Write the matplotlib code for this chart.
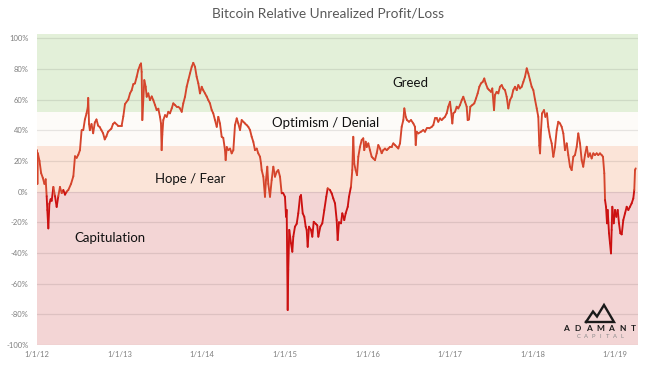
import numpy as np
import matplotlib
matplotlib.use("Agg")
import matplotlib.pyplot as plt
from matplotlib.collections import LineCollection
from matplotlib.lines import Line2D

plt.rcParams['font.family'] = ['Lato', 'DejaVu Sans']

# Relative unrealized profit/loss (%); x in decimal years
years = [
    2012.000, 2012.005, 2012.010, 2012.030, 2012.050, 2012.070, 2012.090, 2012.105, 2012.117, 2012.125,
    2012.137, 2012.150, 2012.165, 2012.178, 2012.198, 2012.218, 2012.238, 2012.258, 2012.278, 2012.299,
    2012.319, 2012.339, 2012.360, 2012.379, 2012.412, 2012.440, 2012.460, 2012.480, 2012.500, 2012.520,
    2012.540, 2012.560, 2012.580, 2012.600, 2012.615, 2012.620, 2012.630, 2012.640, 2012.660, 2012.680,
    2012.700, 2012.720, 2012.740, 2012.760, 2012.780, 2012.800, 2012.820, 2012.840, 2012.860, 2012.900,
    2012.920, 2012.940, 2012.980, 2013.025, 2013.045, 2013.065, 2013.105, 2013.126, 2013.146, 2013.166,
    2013.186, 2013.207, 2013.226, 2013.247, 2013.259, 2013.267, 2013.275, 2013.299, 2013.316, 2013.328,
    2013.347, 2013.368, 2013.389, 2013.408, 2013.429, 2013.449, 2013.469, 2013.489, 2013.501, 2013.509,
    2013.517, 2013.529, 2013.550, 2013.570, 2013.590, 2013.610, 2013.631, 2013.650, 2013.671, 2013.691,
    2013.711, 2013.731, 2013.752, 2013.771, 2013.792, 2013.812, 2013.832, 2013.852, 2013.873, 2013.892,
    2013.913, 2013.933, 2013.953, 2013.973, 2013.994, 2014.013, 2014.034, 2014.054, 2014.074, 2014.094,
    2014.115, 2014.134, 2014.155, 2014.176, 2014.195, 2014.215, 2014.236, 2014.255, 2014.276, 2014.284,
    2014.297, 2014.316, 2014.337, 2014.357, 2014.377, 2014.397, 2014.418, 2014.437, 2014.458, 2014.478,
    2014.498, 2014.518, 2014.539, 2014.558, 2014.579, 2014.599, 2014.619, 2014.639, 2014.660, 2014.679,
    2014.700, 2014.712, 2014.720, 2014.740, 2014.760, 2014.772, 2014.788, 2014.800, 2014.821, 2014.841,
    2014.861, 2014.881, 2014.902, 2014.921, 2014.942, 2014.962, 2014.982, 2015.002, 2015.015, 2015.023,
    2015.035, 2015.042, 2015.054, 2015.075, 2015.091, 2015.103, 2015.123, 2015.144, 2015.163, 2015.184,
    2015.196, 2015.217, 2015.236, 2015.253, 2015.265, 2015.277, 2015.293, 2015.317, 2015.333, 2015.350,
    2015.374, 2015.393, 2015.406, 2015.430, 2015.454, 2015.478, 2015.502, 2015.519, 2015.547, 2015.568,
    2015.587, 2015.608, 2015.628, 2015.640, 2015.656, 2015.680, 2015.696, 2015.720, 2015.737, 2015.762,
    2015.777, 2015.801, 2015.817, 2015.829, 2015.841, 2015.858, 2015.874, 2015.890, 2015.910, 2015.931,
    2015.950, 2015.962, 2015.979, 2015.991, 2016.011, 2016.031, 2016.052, 2016.071, 2016.092, 2016.113,
    2016.132, 2016.153, 2016.173, 2016.192, 2016.213, 2016.234, 2016.253, 2016.274, 2016.294, 2016.314,
    2016.334, 2016.355, 2016.374, 2016.395, 2016.415, 2016.435, 2016.447, 2016.464, 2016.479, 2016.504,
    2016.528, 2016.556, 2016.576, 2016.585, 2016.597, 2016.616, 2016.649, 2016.677, 2016.697, 2016.718,
    2016.750, 2016.779, 2016.798, 2016.818, 2016.839, 2016.858, 2016.879, 2016.899, 2016.919, 2016.939,
    2016.960, 2016.979, 2017.000, 2017.012, 2017.028, 2017.040, 2017.061, 2017.081, 2017.100, 2017.121,
    2017.142, 2017.161, 2017.182, 2017.202, 2017.214, 2017.230, 2017.246, 2017.270, 2017.294, 2017.315,
    2017.335, 2017.355, 2017.375, 2017.396, 2017.415, 2017.432, 2017.456, 2017.476, 2017.496, 2017.512,
    2017.533, 2017.545, 2017.565, 2017.585, 2017.605, 2017.626, 2017.645, 2017.666, 2017.686, 2017.706,
    2017.726, 2017.747, 2017.766, 2017.787, 2017.808, 2017.827, 2017.847, 2017.868, 2017.888, 2017.908,
    2017.929, 2017.948, 2017.969, 2017.989, 2018.009, 2018.029, 2018.050, 2018.069, 2018.081, 2018.090,
    2018.102, 2018.114, 2018.138, 2018.155, 2018.174, 2018.190, 2018.211, 2018.231, 2018.251, 2018.271,
    2018.292, 2018.311, 2018.332, 2018.352, 2018.372, 2018.392, 2018.413, 2018.432, 2018.453, 2018.473,
    2018.493, 2018.513, 2018.534, 2018.553, 2018.574, 2018.594, 2018.613, 2018.634, 2018.655, 2018.675,
    2018.695, 2018.715, 2018.735, 2018.755, 2018.776, 2018.795, 2018.816, 2018.836, 2018.852, 2018.868,
    2018.877, 2018.889, 2018.901, 2018.909, 2018.925, 2018.937, 2018.949, 2018.957, 2018.965, 2018.982,
    2018.998, 2019.014, 2019.030, 2019.046, 2019.062, 2019.079, 2019.098, 2019.119, 2019.139, 2019.159,
    2019.179, 2019.199, 2019.219, 2019.231, 2019.240, 2019.248,
]
rup = [
    27, 5, 25, 20, 12, 9, 5, 8, -3, -12,
    -24, -8, -5, -6, 3, -3, -10, -3, 3, -1,
    1, -2, 0, 1, 5, 10, 23, 22, 24, 27,
    40, 40, 47, 51, 55, 61, 44, 40, 44, 38,
    45, 47, 43, 42, 40, 38, 34, 36, 39, 41,
    44, 45, 43, 43, 49, 57, 60, 64, 66, 70,
    70.5, 74.8, 79.2, 82.4, 83.5, 78, 46.6, 72.6, 68.3, 61.8,
    64, 59.6, 62, 59.6, 56.4, 53.1, 54, 48.7, 44.4, 27,
    37, 46.6, 49.8, 48.7, 52, 51, 54.2, 57.5, 56.4, 55.3,
    55.3, 54.2, 52, 57.5, 61.8, 68.3, 72.6, 77, 81.3, 83.9,
    81.3, 74.8, 70.5, 64, 68.3, 66, 64, 62, 59.6, 57.5,
    53.1, 51, 46.6, 42.2, 48.7, 44.4, 35.7, 35, 27, 20.5,
    29, 27, 28, 24.9, 27, 43.3, 47.7, 44.4, 40.1, 46.6,
    45.5, 44.4, 43.3, 42.2, 40.1, 35.7, 32.4, 27, 28, 24.9,
    22.7, 18.4, 14, 9.7, -3.4, 7.5, 16.2, 5, -3.4, 7.5,
    16.2, 9.7, 12.9, 14, 9.7, -1.2, -1.2, -3.4, -16.4, -12,
    -77.2, -51, -25, -33.7, -39.2, -29.4, -22.9, -21, -14.2, -3.4,
    -2.3, -14.2, -16.4, -22.9, -25, -36, -22.9, -25, -29.4, -19.7,
    -21, -22, -29.4, -22.9, -20.7, -12.1, -3.4, 2.1, 1, -1.2,
    -4.5, -7.7, -18.6, -31.6, -20, -20.7, -14.2, -18.6, -14.2, -9.9,
    -3.4, 3.2, 14, 35.7, 18, 14, 10.7, 22.7, 29, 33.6,
    34.7, 27, 32.5, 29, 31.4, 27, 22.7, 21.6, 20.5, 25,
    30.3, 28, 25, 27, 28, 27, 28, 29.2, 29.2, 31.4,
    30.3, 29.2, 28.1, 31.4, 42.2, 46.6, 54.2, 48.7, 46.6, 45.5,
    46.6, 44.4, 42.2, 30.3, 39, 37.9, 39, 40.1, 39, 41.2,
    41.2, 42.2, 43.3, 47.7, 47.7, 45.5, 47.7, 46.6, 47.7, 48.7,
    51, 55.3, 58.5, 53, 44.4, 51, 52, 55.3, 54.2, 56.4,
    59.6, 61.8, 58.5, 55.3, 46.6, 47, 55.3, 56.4, 57.5, 60.7,
    64, 68.3, 70.5, 71.5, 73.7, 70.5, 67.2, 66.1, 65, 67.2,
    53.1, 63, 65, 64, 68.3, 69.4, 67.2, 66.1, 61.8, 54.2,
    59.6, 61.8, 66.1, 68.3, 66.1, 69.4, 67.2, 68.3, 71.5, 74.8,
    80.3, 77, 72.6, 68.3, 66.1, 60, 54.2, 48.7, 30, 24.9,
    40, 50.9, 53.1, 48.7, 51, 42.2, 35.7, 31.4, 22.7, 29,
    40.1, 45.5, 44.4, 42.2, 37.9, 27, 31.4, 23.8, 16.2, 14,
    22.7, 23.8, 29.2, 37.9, 31.4, 20.5, 16.2, 23.8, 29.2, 22.7,
    24.9, 21.6, 24.9, 23.8, 24.9, 23.8, 24.9, 23.8, 22.7, 11.9,
    -5.5, -10, -20.7, -12, -27.2, -33.7, -40.3, -25, -9.9, -20.7,
    -12, -16.4, -12, -20.7, -27.2, -27.9, -18.6, -14.2, -9.9, -12,
    -9.9, -7.7, -4.5, 1, 14, 15.1,
]

# sentiment zones
zone_bounds = [-100, 0, 30, 52, 102.5]
zone_colors = ['#f3d5d5', '#fbe4d8', '#fdfbf8', '#e3f0d9']
zone_names = ['Capitulation', 'Hope / Fear', 'Optimism / Denial', 'Greed']
zone_label_x = [2012.885, 2013.852, 2015.490, 2016.520]
zone_label_y = [-30.5, 8, 44.5, 70.5]

tick_years = [2012, 2013, 2014, 2015, 2016, 2017, 2018, 2019]
tick_labels = ['1/1/12', '1/1/13', '1/1/14', '1/1/15', '1/1/16', '1/1/17', '1/1/18', '1/1/19']
pct_ticks = list(range(-100, 101, 20))

W, H = 653, 379
fig = plt.figure(figsize=(W / 100, H / 100), dpi=100)
ax = fig.add_axes([37 / W, (H - 345) / H, 601 / W, 310.7 / H])

for i in range(len(zone_colors)):
    ax.axhspan(zone_bounds[i], zone_bounds[i + 1], color=zone_colors[i], lw=0, zorder=0)
for v in pct_ticks:
    ax.axhline(v, color='black', alpha=0.09, lw=0.9, zorder=1)

x = np.array(years)
y = np.array(rup, dtype=float)
pts = np.column_stack([x, y])
segs = np.stack([pts[:-1], pts[1:]], axis=1)
mid = (y[:-1] + y[1:]) / 2
cols = np.where(mid < 0, '#cc1111', '#d5452c')
lc = LineCollection(segs, colors=cols, linewidths=1.35, capstyle='round', joinstyle='round', zorder=3)
ax.add_collection(lc)

for name, lx, ly in zip(zone_names, zone_label_x, zone_label_y):
    ax.text(lx, ly, name, ha='center', va='center', fontsize=9.5, color='#111111', zorder=4)

ax.set_xlim(2012.0, 2012 + 601 / 82.6)
ax.set_ylim(-100, 102.5)
ax.set_xticks(tick_years)
ax.set_xticklabels(tick_labels)
ax.set_yticks(pct_ticks)
ax.set_yticklabels(['%d%%' % v for v in pct_ticks])
ax.tick_params(length=0, labelsize=5.5, labelcolor='#7f7f7f')
ax.tick_params(axis='y', pad=6)
ax.tick_params(axis='x', pad=4)
for s in ax.spines.values():
    s.set_visible(False)

fig.text(327.5 / W, 1 - 14 / H, 'Bitcoin Relative Unrealized Profit/Loss',
         ha='center', va='center', fontsize=9.8, color='#595959')

# Adamant Capital logo
def fx(px):
    return px / W

def fy(py):
    return 1 - py / H

icon_x = [586, 593, 597, 604, 614, 586]
icon_y = [322, 311.5, 316.5, 305, 322, 322]
fig.add_artist(Line2D([fx(v) for v in icon_x], [fy(v) for v in icon_y],
                      color='#1a1a1a', lw=1.7, solid_joinstyle='miter'))
for i, ch in enumerate('ADAMANT'):
    fig.text(fx(566 + i * 11.3), fy(328.5), ch, ha='center', va='center',
             fontsize=6, fontweight='bold', color='#1a1a1a')
for i, ch in enumerate('CAPITAL'):
    fig.text(fx(579 + i * 7.2), fy(337), ch, ha='center', va='center',
             fontsize=4.2, color='#8c8c8c')

fig.savefig('out.png', dpi=100)
